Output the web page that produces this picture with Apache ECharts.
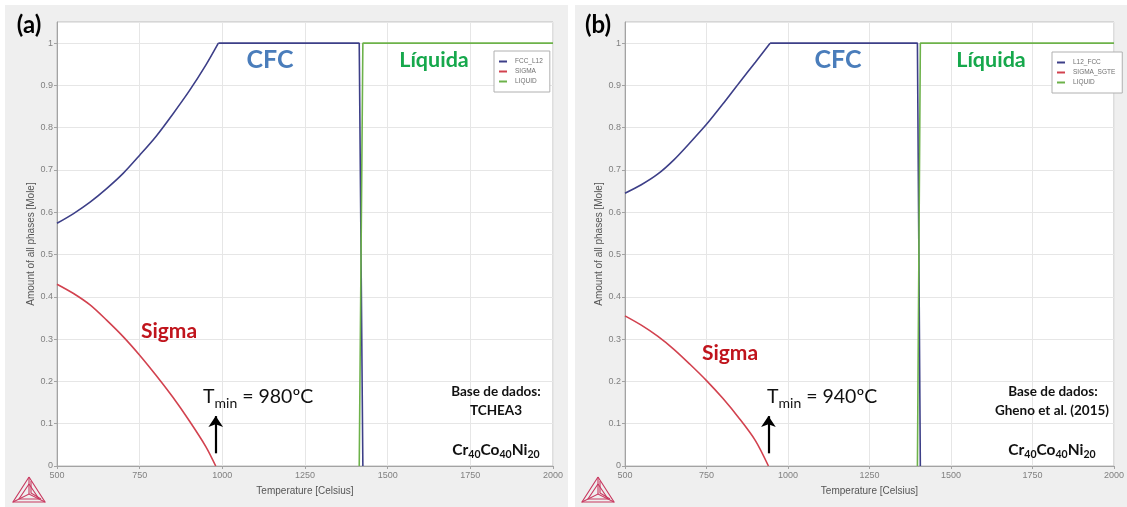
<!DOCTYPE html>
<html>
<head>
<meta charset="utf-8">
<script src="https://cdn.jsdelivr.net/npm/echarts@6/dist/echarts.min.js"></script>
<style>
  html, body { margin: 0; padding: 0; background: #ffffff; }
  #chart { width: 1127px; height: 507px; }
</style>
</head>
<body>
<div id="chart"></div>
<script>
// Equilibrium phase amounts of Cr40Co40Ni20 vs temperature, two databases.

// (a) TCHEA3
const fccTempA    = [500, 550, 600, 650, 700, 750, 800, 850, 900, 950, 988, 1414, 1425];
const fccA        = [0.574, 0.597, 0.624, 0.656, 0.692, 0.735, 0.780, 0.832, 0.887, 0.948, 1, 1, 0];
const tminA       = 980;
const sigmaTempA  = [500, 550, 600, 650, 700, 750, 800, 850, 900, 950, tminA];
const sigmaA      = [0.430, 0.408, 0.381, 0.345, 0.306, 0.262, 0.214, 0.163, 0.107, 0.046, 0];
const liquidTempA = [1414, 1425, 2000];
const liquidA     = [0, 1, 1];

// (b) Gheno et al. (2015)
const fccTempB    = [500, 550, 600, 650, 700, 750, 800, 850, 900, 945, 1397, 1406];
const fccB        = [0.645, 0.665, 0.690, 0.724, 0.765, 0.808, 0.856, 0.906, 0.955, 1, 1, 0];
const tminB       = 940;
const sigmaTempB  = [500, 550, 600, 650, 700, 750, 800, 850, 900, tminB];
const sigmaB      = [0.355, 0.333, 0.307, 0.276, 0.240, 0.202, 0.160, 0.113, 0.060, 0];
const liquidTempB = [1397, 1406, 2000];
const liquidB     = [0, 1, 1];

const phaseNamesA = ['FCC_L12', 'SIGMA', 'LIQUID'];
const phaseNamesB = ['L12_FCC', 'SIGMA_SGTE', 'LIQUID'];

const xMin = 500, xMax = 2000, xStep = 250;
const yMin = 0, yMax = 1.05, yStep = 0.1;

const COLORS = { fcc: '#3d3f88', sigma: '#d2424f', liquid: '#6db24a' };
const ANNOT = "Lato, 'Open Sans', sans-serif";
const AXISFONT = "'Liberation Sans', Arial, sans-serif";

function pairs(xs, ys) { return xs.map((x, i) => [x, ys[i]]); }

const gridLefts = [57, 625];
const gridTop = 22, gridW = 496, gridH = 444;

const grids = gridLefts.map(l => ({
  left: l, top: gridTop, width: gridW, height: gridH,
  show: true, backgroundColor: '#ffffff', borderColor: '#bdbdbd', borderWidth: 1
}));

const xAxes = [0, 1].map(i => ({
  type: 'value', gridIndex: i, min: xMin, max: xMax, interval: xStep,
  name: 'Temperature [Celsius]', nameLocation: 'middle', nameGap: 20,
  nameTextStyle: { fontFamily: AXISFONT, fontSize: 10, color: '#555' },
  axisLine: { lineStyle: { color: '#a3a3a3' } },
  axisTick: { show: true, length: 3, lineStyle: { color: '#a3a3a3' } },
  axisLabel: { fontFamily: AXISFONT, fontSize: 9, color: '#808080', margin: 5, formatter: v => String(v) },
  splitLine: { lineStyle: { color: '#e6e6e6' } }
}));

const yAxes = [0, 1].map(i => ({
  type: 'value', gridIndex: i, min: yMin, max: yMax, interval: yStep,
  name: 'Amount of all phases [Mole]', nameLocation: 'middle', nameGap: 20, nameRotate: 90,
  nameTextStyle: { fontFamily: AXISFONT, fontSize: 10, color: '#555' },
  axisLine: { show: true, lineStyle: { color: '#a3a3a3' } },
  axisTick: { show: true, length: 3, lineStyle: { color: '#a3a3a3' } },
  axisLabel: { fontFamily: AXISFONT, fontSize: 9, color: '#808080', margin: 4, showMaxLabel: false },
  splitLine: { lineStyle: { color: '#e6e6e6' } }
}));

function lineSeries(name, idx, data, color, extra) {
  return Object.assign({
    name, type: 'line', xAxisIndex: idx, yAxisIndex: idx,
    data, showSymbol: false, symbol: 'none',
    lineStyle: { color, width: 1.6 }, itemStyle: { color },
    animation: false, silent: true
  }, extra || {});
}

// FCC: a smooth rising branch up to full fraction, then the straight plateau and melting drop
function fccSeries(name, idx, xs, ys) {
  const k = ys.indexOf(1);
  const pts = pairs(xs, ys);
  return [
    lineSeries(name, idx, pts.slice(0, k + 1), COLORS.fcc, { smooth: 0.3 }),
    lineSeries(name, idx, pts.slice(k), COLORS.fcc)
  ];
}

// Vertical arrow pointing at the sigma solvus
function tminArrow(t) {
  return {
    markLine: {
      silent: true, animation: false,
      symbol: ['none', 'arrow'], symbolSize: 10,
      label: { show: false },
      lineStyle: { color: '#000', width: 2.2, type: 'solid' },
      data: [[{ coord: [t, 0.03], symbol: 'none' }, { coord: [t, 0.118], symbol: 'arrow', symbolSize: 11 }]]
    }
  };
}

const series = [].concat(
  fccSeries(phaseNamesA[0], 0, fccTempA, fccA),
  [lineSeries(phaseNamesA[1], 0, pairs(sigmaTempA, sigmaA), COLORS.sigma, Object.assign({ smooth: 0.3 }, tminArrow(tminA))),
   lineSeries(phaseNamesA[2], 0, pairs(liquidTempA, liquidA), COLORS.liquid)],
  fccSeries(phaseNamesB[0], 1, fccTempB, fccB),
  [lineSeries(phaseNamesB[1], 1, pairs(sigmaTempB, sigmaB), COLORS.sigma, Object.assign({ smooth: 0.3 }, tminArrow(tminB))),
   lineSeries(phaseNamesB[2], 1, pairs(liquidTempB, liquidB), COLORS.liquid)]
);

function legendAt(names, left, top) {
  return {
    data: names, left, top, orient: 'vertical',
    backgroundColor: '#ffffff', borderColor: '#b0b0b0', borderWidth: 1,
    padding: [6, 7, 6, 5], itemGap: 1, itemWidth: 8, itemHeight: 2, icon: 'rect',
    textStyle: { fontFamily: AXISFONT, fontSize: 6.5, color: '#707070', lineHeight: 9, padding: [0, 0, 0, 3] },
    selectedMode: false
  };
}

function text(x, y, str, opts) {
  return {
    type: 'text', z: 100, silent: true,
    style: Object.assign({
      x, y, text: str, textAlign: 'center', textVerticalAlign: 'middle',
      fill: '#111', fontFamily: ANNOT, fontWeight: 'bold', fontSize: 14
    }, opts || {})
  };
}

function tminLabel(x, y, t) {
  return text(x, y, '{t|T}{s|min}{t| = ' + t + 'ºC}', {
    textAlign: 'left',
    rich: {
      t: { fontFamily: ANNOT, fontSize: 19.5, fontWeight: 'normal', fill: '#111', lineHeight: 26 },
      s: { fontFamily: ANNOT, fontSize: 14, fontWeight: 'normal', fill: '#111', lineHeight: 15, verticalAlign: 'bottom' }
    }
  });
}

function alloyLabel(x, y) {
  return text(x, y, '{m|Cr}{s|40}{m|Co}{s|40}{m|Ni}{s|20}', {
    rich: {
      m: { fontFamily: ANNOT, fontSize: 15.5, fontWeight: 'bold', fill: '#111', lineHeight: 20 },
      s: { fontFamily: ANNOT, fontSize: 10.5, fontWeight: 'bold', fill: '#111', lineHeight: 11, verticalAlign: 'bottom' }
    }
  });
}

// Small tetrahedron emblem in the lower-left corner of each panel
function emblem(ox) {
  const c = '#c8385f';
  const line = (pts) => ({
    type: 'polyline', z: 50, silent: true,
    shape: { points: pts.map(p => [p[0] + ox, p[1]]) },
    style: { stroke: c, lineWidth: 1.1, fill: null }
  });
  return [
    line([[29, 477], [13, 502], [45, 502], [29, 477]]),
    line([[29, 477], [29, 494]]),
    line([[13, 502], [29, 494], [45, 502]]),
    line([[29, 484], [19, 499], [39, 499], [29, 484]]),
    line([[31, 481], [31, 493], [41, 499]])
  ];
}

const graphic = [
  { type: 'rect', z: -10, silent: true, shape: { x: 5, y: 5, width: 563, height: 502 }, style: { fill: '#efefef' } },
  { type: 'rect', z: -10, silent: true, shape: { x: 575, y: 5, width: 552, height: 502 }, style: { fill: '#efefef' } },

  text(29, 25, '(a)', { fontSize: 24, fill: '#000' }),
  text(598, 25, '(b)', { fontSize: 24, fill: '#000' }),

  text(270, 60, 'CFC', { fontSize: 25, fill: '#4a7dbb' }),
  text(434, 60, 'Líquida', { fontSize: 21.5, fill: '#16a84c' }),
  text(169, 331, 'Sigma', { fontSize: 21, fill: '#c0141c' }),
  tminLabel(203, 397, tminA),
  text(496, 392, 'Base de dados:', { fontSize: 13.5 }),
  text(496, 411, 'TCHEA3', { fontSize: 13.5 }),
  alloyLabel(496, 450),

  text(838, 60, 'CFC', { fontSize: 25, fill: '#4a7dbb' }),
  text(991, 60, 'Líquida', { fontSize: 21.5, fill: '#16a84c' }),
  text(730, 353, 'Sigma', { fontSize: 21, fill: '#c0141c' }),
  tminLabel(767, 397, tminB),
  text(1053, 392, 'Base de dados:', { fontSize: 13.5 }),
  text(1052, 411, 'Gheno et al. (2015)', { fontSize: 13.5 }),
  alloyLabel(1052, 450)
].concat(emblem(0), emblem(569));

const chart = echarts.init(document.getElementById('chart'), null, { renderer: 'canvas' });
chart.setOption({
  animation: false,
  backgroundColor: '#ffffff',
  grid: grids,
  xAxis: xAxes,
  yAxis: yAxes,
  legend: [legendAt(phaseNamesA, 494, 51), legendAt(phaseNamesB, 1052, 52)],
  series,
  graphic
});
</script>
</body>
</html>
